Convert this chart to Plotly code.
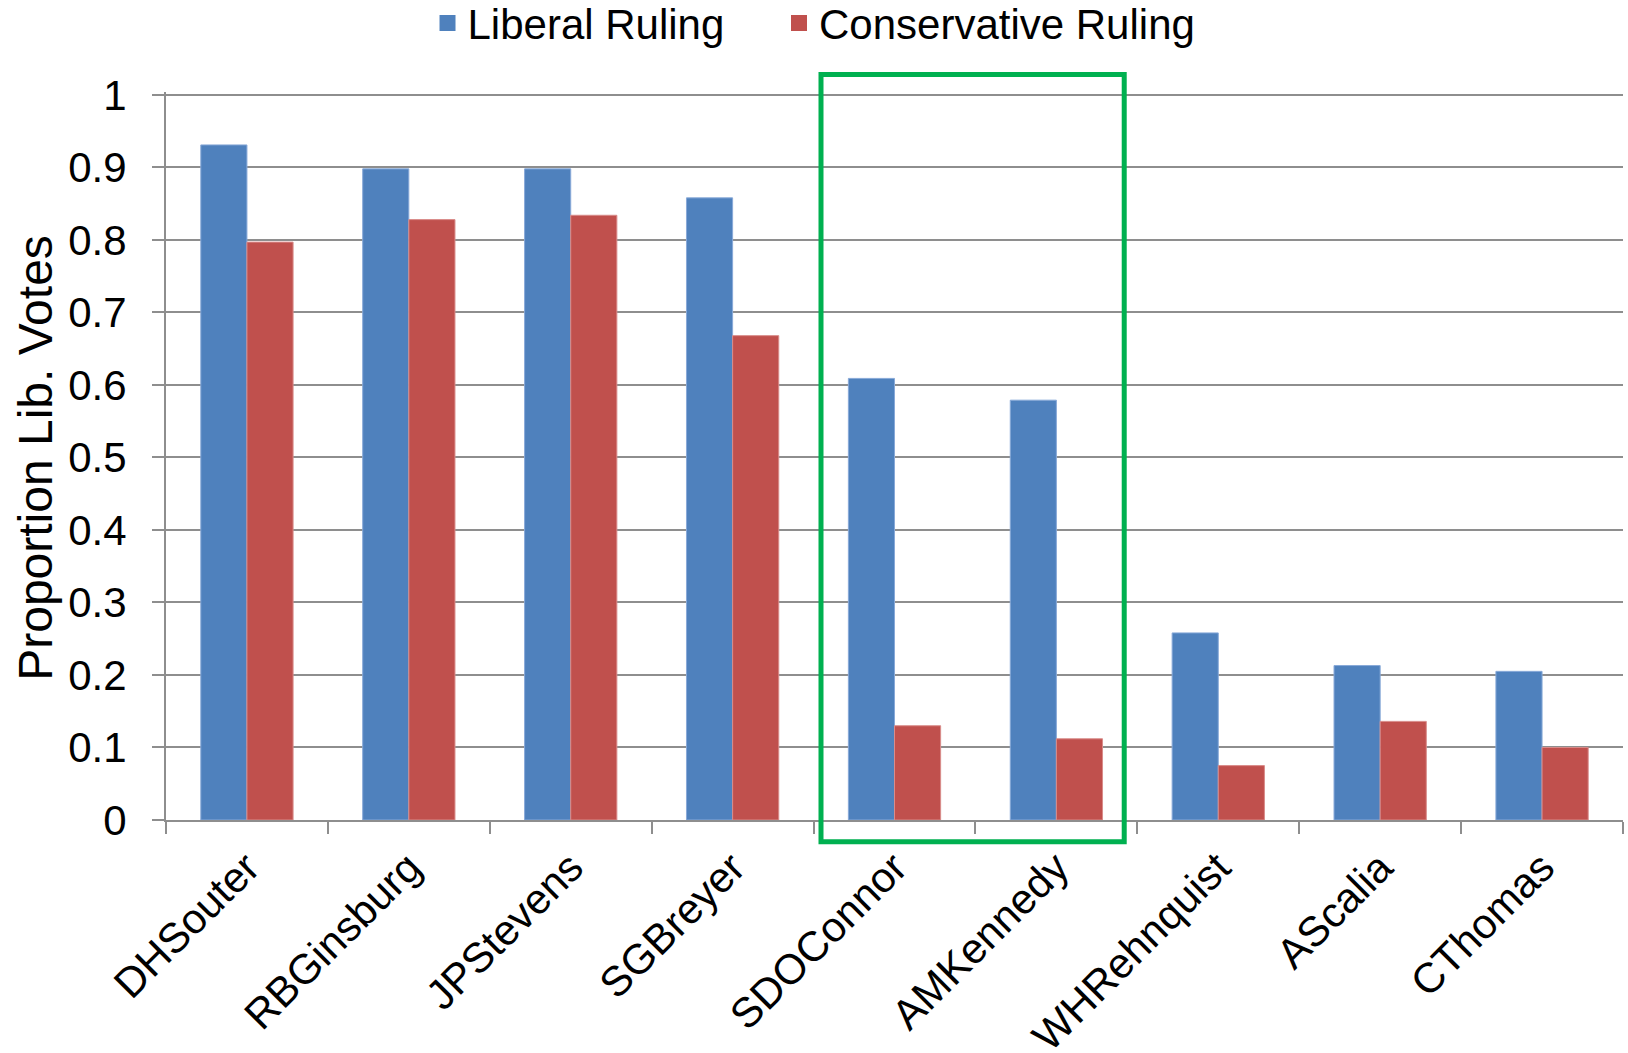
import plotly.graph_objects as go

justices = ["DHSouter", "RBGinsburg", "JPStevens", "SGBreyer", "SDOConnor",
            "AMKennedy", "WHRehnquist", "AScalia", "CThomas"]
liberal_ruling = [0.931, 0.898, 0.898, 0.858, 0.609, 0.579, 0.258, 0.213, 0.205]
conservative_ruling = [0.797, 0.828, 0.834, 0.668, 0.130, 0.112, 0.075, 0.136, 0.100]
y_ticks = [0, 0.1, 0.2, 0.3, 0.4, 0.5, 0.6, 0.7, 0.8, 0.9, 1]
y_tick_labels = ["0", "0.1", "0.2", "0.3", "0.4", "0.5", "0.6", "0.7", "0.8", "0.9", "1"]
highlighted = ["SDOConnor", "AMKennedy"]
y_title = "Proportion Lib. Votes"

FONT = "Liberation Sans, Arial, sans-serif"
BLUE = "#4F81BD"
RED = "#C0504D"
GRID = "#8E8E8E"
Y_MAX = 1.004

fig = go.Figure()
fig.add_trace(go.Bar(name="Liberal Ruling", x=justices, y=liberal_ruling, showlegend=False,
                     marker=dict(color=BLUE, line=dict(color="#88A9D8", width=1))))
fig.add_trace(go.Bar(name="Conservative Ruling", x=justices, y=conservative_ruling, showlegend=False,
                     marker=dict(color=RED, line=dict(color="#D98C8A", width=1))))

# legend entries (square swatches), one legend per series so spacing can match
fig.add_trace(go.Scatter(name="Liberal Ruling", x=[None], y=[None], mode="markers",
                         marker=dict(symbol="square", size=19, color=BLUE),
                         legend="legend", showlegend=True, hoverinfo="skip"))
fig.add_trace(go.Scatter(name="Conservative Ruling", x=[None], y=[None], mode="markers",
                         marker=dict(symbol="square", size=19, color=RED),
                         legend="legend2", showlegend=True, hoverinfo="skip"))

# highlight box around the swing justices (domain coords computed from category indices)
n = len(justices)
i0 = justices.index(highlighted[0])
i1 = justices.index(highlighted[-1])
x0 = (i0 - 0.454 + 0.5) / n
x1 = (i1 + 0.419 + 0.5) / n
fig.add_shape(type="rect", xref="x domain", yref="y domain",
              x0=x0, x1=x1, y0=-0.030 / Y_MAX, y1=1.028 / Y_MAX,
              line=dict(color="#00B050", width=5), fillcolor="rgba(0,0,0,0)")

# y-axis title
fig.add_annotation(text=y_title, xref="paper", yref="paper", x=-0.0895, y=0.497,
                   xanchor="center", yanchor="middle", textangle=-90, showarrow=False,
                   font=dict(family=FONT, size=48, color="black"))

legend_common = dict(orientation="h", xref="container", yref="container",
                     xanchor="left", y=0.978, yanchor="middle",
                     font=dict(family=FONT, size=42, color="black"),
                     bgcolor="rgba(0,0,0,0)", itemsizing="trace")

fig.update_layout(
    width=1628, height=1053,
    margin=dict(l=166, r=5, t=92, b=233),
    paper_bgcolor="white", plot_bgcolor="white",
    barmode="group", bargap=0.43, bargroupgap=0,
    font=dict(family=FONT, size=42, color="black"),
    legend=dict(x=0.2626, **legend_common),
    legend2=dict(x=0.4785, **legend_common),
    showlegend=True,
)

fig.update_xaxes(
    type="category", categoryorder="array", categoryarray=justices,
    tickangle=-45, tickson="boundaries",
    ticks="outside", ticklen=12, tickwidth=2, tickcolor=GRID,
    showline=True, linecolor=GRID, linewidth=2,
    showgrid=False, tickfont=dict(family=FONT, size=42, color="black"),
    ticklabelstandoff=4, automargin=False,
)
fig.update_yaxes(
    range=[0, Y_MAX], tickvals=y_ticks, ticktext=y_tick_labels,
    ticks="outside", ticklen=12, tickwidth=2, tickcolor=GRID,
    showline=True, linecolor=GRID, linewidth=2,
    showgrid=True, gridcolor=GRID, gridwidth=2, zeroline=False,
    tickfont=dict(family=FONT, size=42, color="black"),
    ticklabelstandoff=17,
    automargin=False,
)

fig.write_html("out.html")
